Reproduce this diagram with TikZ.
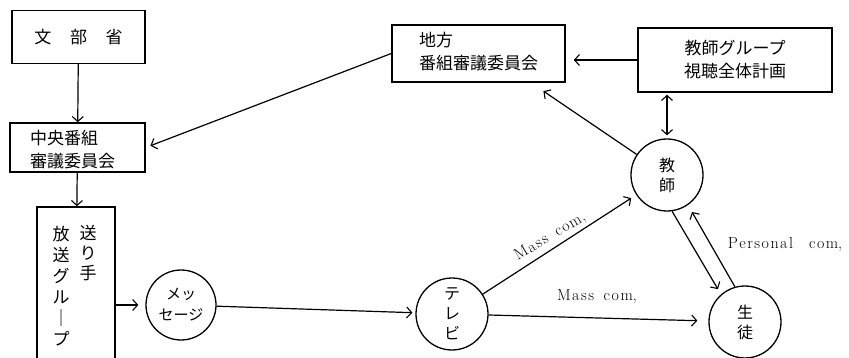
\documentclass[tikz,border=0pt]{standalone}
\usepackage{fontspec}
\newfontfamily\jp{Noto Sans CJK JP}
\usetikzlibrary{arrows.meta}
\begin{document}
\begin{tikzpicture}[x=1pt,y=-1pt,
  >={Straight Barb[length=5pt,width=11pt,line width=1.1pt]},
  box/.style={draw,line width=1.5pt,inner sep=0pt},
  circ/.style={draw,circle,line width=1.3pt,minimum size=72pt,inner sep=0pt,
    font=\jp\fontsize{16}{20}\selectfont,align=center},
  jtext/.style={inner sep=0pt,font=\jp\fontsize{17}{23}\selectfont},
  vchar/.style={inner sep=0pt,font=\jp\fontsize{17}{17}\selectfont},
  conn/.style={line width=1.2pt,->},
  lbl/.style={inner sep=0pt,font=\fontsize{16}{19}\selectfont}]
\clip (0,0) rectangle (849,358);
\useasboundingbox (0,0) rectangle (849,358);

% boxes
\node[box,minimum width=133pt,minimum height=53pt] (monbu) at (78.5,37) {};
\node[jtext] (monbut) at (monbu.center) {文\hspace{1.1em}部\hspace{1.1em}省};

\node[box,minimum width=135pt,minimum height=49pt] (chuo) at (77.5,147.5) {};
\node[jtext,align=left,anchor=west] (chuot) at (30,150) {中央番組\\審議委員会};

\node[box,minimum width=78pt,minimum height=160pt] (housou) at (76,287) {};
% vertical writing, one glyph per node
\foreach \c [count=\i] in {放,送,グ,ル,｜,プ}
  \node[vchar] (ha\i) at (61,213+21*\i) {\c};
\foreach \c [count=\i] in {送,り,手}
  \node[vchar] (hb\i) at (88,213+20*\i) {\c};

\node[box,minimum width=173pt,minimum height=57pt] (chihou) at (478.5,53.5) {};
\node[jtext,align=left,anchor=west] (chihout) at (419,52) {地方\\番組審議委員会};

\node[box,minimum width=194pt,minimum height=64pt] (group) at (735,60) {};
\node[jtext,align=center] (groupt) at (group.center) {教師グループ\\視聴全体計画};

% circles
\node[circ,minimum size=70pt,font=\jp\fontsize{15}{21}\selectfont] (message) at (181,305)
  {メッ\hspace{0.5em}\\セージ};
\node[circ] (terebi) at (452,314) {テ\\レ\\ビ};
\node[circ] (kyoshi) at (667,175) {教\\師};
\node[circ] (seito) at (745,322) {生\\徒};

% flow
\draw[conn] (monbu) -- (chuo);
\draw[conn] (chuo) -- (housou);
\draw[conn,shorten >=7pt] (message -| housou.east) -- (message);
\draw[conn,shorten >=3pt] (message) -- (terebi);
\draw[conn,shorten >=11pt] (terebi) -- (seito);
\draw[conn,shorten >=6pt] (terebi) -- (kyoshi);
\draw[conn,shorten >=6pt] (kyoshi.-82) -- (seito.131);
\draw[conn,shorten >=8pt] (seito.106) -- (kyoshi.-55);
\draw[line width=1.2pt,<->,shorten <=3pt,shorten >=2pt] (kyoshi.north) -- (kyoshi.north |- group.south);
\draw[conn,shorten >=8pt] (group.west) -- (chihou.east |- group.west);
\draw[conn,shorten >=15pt] (kyoshi) -- (chihou.south east -| 531,0);
\draw[conn,shorten >=5pt] (chihou.west) -- (chuo.east);

% labels
\node[lbl,rotate=31] (mc1) at (550,237) {M\kern1.5pt a\kern1.5pt s\kern1.5pt s\ \ c\kern1.5pt o\kern1.5pt m,};
\node[lbl] (mc2) at (597,297) {M\kern1.5pt a\kern1.5pt s\kern1.5pt s\ \ c\kern1.5pt o\kern1.5pt m,};
\node[lbl] (pc) at (785,245) {P\kern1.5pt e\kern1.5pt r\kern1.5pt s\kern1.5pt o\kern1.5pt n\kern1.5pt a\kern1.5pt l\quad c\kern1.5pt o\kern1.5pt m,};
\end{tikzpicture}
\end{document}
